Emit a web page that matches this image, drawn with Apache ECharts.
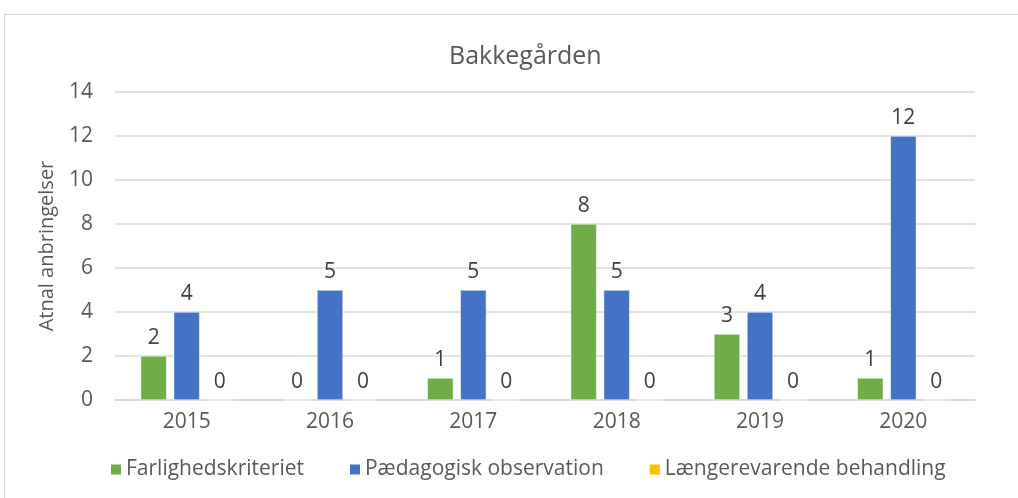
<!DOCTYPE html>
<html><head><meta charset="utf-8">
<script src="https://cdn.jsdelivr.net/npm/echarts@6/dist/echarts.min.js"></script>
<style>
html,body{margin:0;padding:0;background:#fff;}
#frame{position:absolute;left:4px;top:14px;width:1020px;height:500px;border:1px solid #d9d9d9;box-sizing:border-box;}
#c{position:absolute;left:0;top:0;width:1018px;height:498px;}
</style></head>
<body>
<div id="frame"></div>
<div id="c"></div>
<script>
const categories = ['2015','2016','2017','2018','2019','2020'];
const farlighed = [2,0,1,8,3,1];
const paedagogisk = [4,5,5,5,4,12];
const laengere = [0,0,0,0,0,0];
const seriesNames = ['Farlighedskriteriet','Pædagogisk observation','Længerevarende behandling'];
const colors = ['#70AD47','#4472C4','#FFC000'];
const font = '"Open Sans", "Noto Sans", sans-serif';
const chart = echarts.init(document.getElementById('c'));
function mk(name, data, color){
  return {name, type:'bar', data, barWidth:26, barGap:'27%',
    itemStyle:{color, borderColor:'#fff', borderWidth:0.5},
    label:{show:true, position:'top', distance:7, color:'#404040', fontSize:21, fontFamily:font}};
}
chart.setOption({
  animation:false,
  color:colors,
  title:{text:'Bakkegården', left:444, top:39, textStyle:{color:'#595959', fontSize:25, fontWeight:'normal', fontFamily:font}},
  legend:{top:454, left:104, itemWidth:12, itemHeight:12, itemGap:44, icon:'rect',
    textStyle:{color:'#595959', fontSize:21, fontFamily:font, padding:[0,0,0,-1]}},
  grid:{left:115, right:43, top:92, bottom:98},
  xAxis:{type:'category', data:categories, axisTick:{show:false},
    axisLine:{lineStyle:{color:'#d9d9d9', width:1.5}},
    axisLabel:{color:'#595959', fontSize:21, fontFamily:font, margin:12}},
  yAxis:{type:'value', min:0, max:14, interval:2,
    name:'Atnal anbringelser', nameLocation:'middle', nameGap:58, nameRotate:90,
    nameTextStyle:{color:'#595959', fontSize:20, fontFamily:font},
    axisLabel:{color:'#595959', fontSize:21, fontFamily:font, margin:22},
    splitLine:{lineStyle:{color:'#d9d9d9', width:1.5}}},
  series:[mk(seriesNames[0],farlighed,colors[0]), mk(seriesNames[1],paedagogisk,colors[1]), mk(seriesNames[2],laengere,colors[2])]
});
</script>
</body></html>
